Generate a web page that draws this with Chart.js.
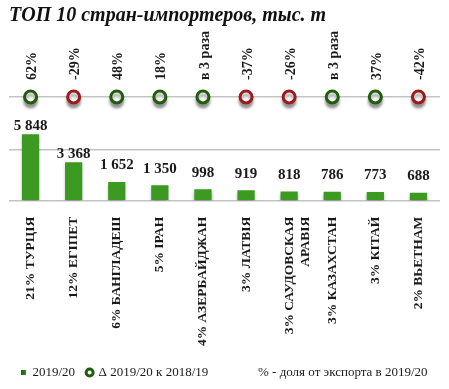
<!DOCTYPE html>
<html>
<head>
<meta charset="utf-8">
<script src="https://cdn.jsdelivr.net/npm/chart.js@4"></script>
<style>
  html, body { margin: 0; padding: 0; background: #fff; }
</style>
</head>
<body>
<canvas id="chart" width="449" height="389"></canvas>
<script>
// data
const countries = [
  "21% ТУРЦІЯ", "12% ЕГІПЕТ", "6% БАНГЛАДЕШ", "5% ІРАН", "4% АЗЕРБАЙДЖАН",
  "3% ЛАТВІЯ", ["3% САУДОВСКАЯ", "АРАВІЯ"], "3% КАЗАХСТАН", "3% КІТАЙ", "2% ВЬЕТНАМ"
];
const imports = [5848, 3368, 1652, 1350, 998, 919, 818, 786, 773, 688];
const changes = ["62%", "-29%", "48%", "18%", "в 3 раза", "-37%", "-26%", "в 3 раза", "37%", "-42%"];

const GREEN = "#1f5c0c";
const RED = "#9c1a1a";
const SERIF = "'Liberation Serif', 'Times New Roman', serif";

const fmt = v => String(v).replace(/\B(?=(\d{3})+(?!\d))/g, " ");

// bar fill: darker edges, lighter middle
function barFill(c) {
  const el = c.element;
  if (!el || !isFinite(el.x) || !el.width) return "#3c9a22";
  const g = c.chart.ctx.createLinearGradient(el.x - el.width / 2, 0, el.x + el.width / 2, 0);
  g.addColorStop(0, "#1d6410");
  g.addColorStop(0.45, "#4fb52f");
  g.addColorStop(0.6, "#46a82a");
  g.addColorStop(1, "#1b5e0e");
  return g;
}

const labelsPlugin = {
  id: "labels",
  beforeDatasetDraw(chart, args) {
    const ctx = chart.ctx;
    ctx.save();
    ctx.shadowColor = "rgba(0,0,0,0.35)";
    ctx.shadowOffsetY = args.index === 1 ? 4 : 2;
    ctx.shadowBlur = 3;
  },
  afterDatasetDraw(chart) {
    chart.ctx.restore();
  },
  afterDatasetsDraw(chart) {
    const ctx = chart.ctx;
    const base = chart.scales.y.getPixelForValue(0);
    ctx.save();
    ctx.fillStyle = "#1a1a1a";
    // values above bars
    ctx.font = "bold 15px " + SERIF;
    ctx.textAlign = "center";
    ctx.textBaseline = "bottom";
    chart.getDatasetMeta(0).data.forEach((el, i) => {
      const gap = base - el.y > 30 ? 1 : 9;
      ctx.fillText(fmt(imports[i]), el.x, el.y - gap);
    });
    // rotated change labels above circles
    ctx.font = "bold 14px " + SERIF;
    ctx.textAlign = "left";
    ctx.textBaseline = "middle";
    chart.getDatasetMeta(1).data.forEach((el, i) => {
      ctx.save();
      ctx.translate(el.x + 2, el.y - 17);
      ctx.rotate(-Math.PI / 2);
      ctx.fillText(changes[i], 0, 0);
      ctx.restore();
    });
    ctx.restore();
  },
  afterDraw(chart) {
    const ctx = chart.ctx;
    const box = chart.legend.legendHitBoxes[0];
    if (!box) return;
    ctx.save();
    ctx.fillStyle = "#1a1a1a";
    ctx.font = "13px " + SERIF;
    ctx.textBaseline = "middle";
    ctx.textAlign = "left";
    ctx.fillText("% - доля от экспорта в 2019/20", 258, box.top + box.height / 2);
    ctx.restore();
  }
};

new Chart(document.getElementById("chart"), {
  data: {
    labels: countries,
    datasets: [
      {
        type: "bar",
        label: "2019/20",
        data: imports,
        yAxisID: "y",
        backgroundColor: barFill,
        barPercentage: 0.4,
        categoryPercentage: 1,
        pointStyle: "rect",
        order: 2,
      },
      {
        type: "line",
        label: "Δ 2019/20 к 2018/19",
        data: changes.map(() => 0),
        yAxisID: "y2",
        showLine: false,
        pointStyle: "circle",
        pointRadius: 6,
        pointBorderWidth: 3,
        pointBackgroundColor: "#fff",
        pointBorderColor: changes.map(c => (c.startsWith("-") ? RED : GREEN)),
        borderColor: GREEN,
        backgroundColor: "#fff",
        order: 1,
      },
    ],
  },
  options: {
    responsive: false,
    animation: false,
    layout: { padding: { left: 9, right: 4, top: 0, bottom: 0 } },
    plugins: {
      title: {
        display: true,
        text: "ТОП 10 стран-импортеров, тыс. т",
        align: "start",
        color: "#111",
        font: { family: SERIF, size: 20, style: "italic", weight: "bold" },
        padding: { top: 4, bottom: 2 },
      },
      legend: {
        position: "bottom",
        align: "start",
        labels: {
          usePointStyle: true,
          boxWidth: 5,
          boxHeight: 5,
          padding: 12,
          color: "#1a1a1a",
          font: { family: SERIF, size: 13 },
          sort: (a, b) => a.datasetIndex - b.datasetIndex,
        },
      },
      tooltip: { enabled: false },
    },
    scales: {
      x: {
        grid: { display: false },
        border: { display: false },
        ticks: {
          maxRotation: 90,
          minRotation: 90,
          padding: 8,
          color: "#1a1a1a",
          font: { family: SERIF, size: 13.5, weight: "bold" },
        },
      },
      y: {
        min: 0,
        max: 15000,
        afterBuildTicks: s => { s.ticks = [{ value: 0 }, { value: 4500 }]; },
        afterFit: s => { s.width = 0; },
        ticks: { display: false },
        border: { display: false },
        grid: { color: "#c4c4c4", lineWidth: 1.5, drawTicks: false },
      },
      y2: {
        min: -1.55,
        max: 1,
        afterBuildTicks: s => { s.ticks = [{ value: 0 }]; },
        afterFit: s => { s.width = 0; },
        ticks: { display: false },
        border: { display: false },
        grid: { color: "#c4c4c4", lineWidth: 1.5, drawTicks: false },
      },
    },
  },
  plugins: [labelsPlugin],
});
</script>
</body>
</html>
